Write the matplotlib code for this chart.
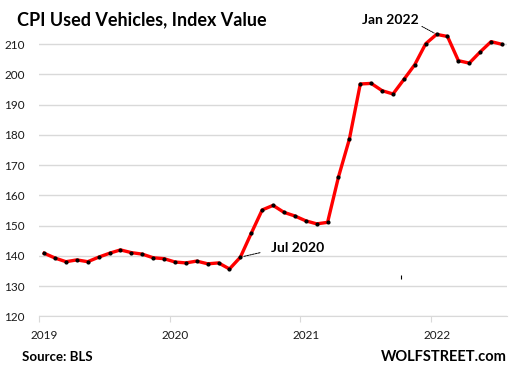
import matplotlib
matplotlib.use('Agg')
import matplotlib.pyplot as plt

# CPI used vehicles, monthly index values Jan 2019 - Jul 2022
cpi_2019 = [140.9, 139.3, 138.1, 138.7, 138.1, 139.6, 140.9, 142.0, 141.1, 140.6, 139.4, 139.1]
cpi_2020 = [138.0, 137.7, 138.3, 137.4, 137.7, 135.7, 139.6, 147.5, 155.2, 156.7, 154.4, 153.2]
cpi_2021 = [151.6, 150.6, 151.1, 166.1, 178.6, 196.8, 197.0, 194.6, 193.5, 198.3, 203.2, 210.1]
cpi_2022 = [213.2, 212.5, 204.5, 203.7, 207.4, 210.8, 209.9]
cpi = cpi_2019 + cpi_2020 + cpi_2021 + cpi_2022

year_labels = ['2019', '2020', '2021', '2022']
y_ticks = [120, 130, 140, 150, 160, 170, 180, 190, 200, 210]

plt.rcParams['font.family'] = ['Lato', 'DejaVu Sans']

fig = plt.figure(figsize=(5.10, 3.72), dpi=100)
ax = fig.add_axes([0.0759, 0.1492, 0.9191, 0.7731])

# points sit in the middle of each month category, like Excel
x = [i + 0.5 for i in range(len(cpi))]
ax.plot(x, cpi, color='#ff0000', lw=2.4, solid_joinstyle='round', zorder=3)
ax.plot(x, cpi, ls='none', marker='o', ms=2.0, color='black', zorder=4)

ax.set_xlim(0, len(cpi))
ax.set_ylim(120, 215)
ax.set_yticks(y_ticks)
# tick marks between years, labels on the January category
year_starts = [12 * k for k in range(len(year_labels))]
ax.set_xticks(year_starts)
ax.set_xticklabels([])
ax.set_xticks([s + 0.5 for s in year_starts], minor=True)
ax.set_xticklabels(year_labels, minor=True)
ax.grid(axis='y', color='#d9d9d9', lw=1)
ax.set_axisbelow(True)
for s in ['top', 'right', 'left']:
    ax.spines[s].set_visible(False)
ax.spines['bottom'].set_color('#d9d9d9')
ax.tick_params(axis='y', length=0, pad=10, labelsize=8.5, labelcolor='#1a1a1a')
ax.tick_params(axis='x', which='major', length=4, color='#d9d9d9')
ax.tick_params(axis='x', which='minor', length=0, pad=9.4, labelsize=8.5, labelcolor='#1a1a1a')

# annotations
jan22 = 36
ax.annotate('Jan 2022', xy=(x[jan22], cpi[jan22]), xytext=(34.9, 217.9),
            ha='right', va='center', fontsize=10, fontweight='bold',
            annotation_clip=False,
            arrowprops=dict(arrowstyle='-', ls=(0, (1, 1)), lw=0.7, color='black',
                            relpos=(1.0, 0.1), shrinkA=0, shrinkB=2))
jul20 = 18
ax.annotate('Jul 2020', xy=(x[jul20], cpi[jul20]), xytext=(21.3, 142.7),
            ha='left', va='center', fontsize=10, fontweight='bold',
            arrowprops=dict(arrowstyle='-', ls=(0, (2, 1)), lw=0.7, color='black',
                            relpos=(0.0, 0.3), shrinkA=6, shrinkB=2))
ax.plot([33.2], [133.1], marker='|', ms=2.5, color='black', mew=0.8)

fig.text(17 / 510, 1 - 20 / 372, 'CPI Used Vehicles, Index Value', fontsize=13,
         fontweight='bold', ha='left', va='center')
fig.text(22 / 510, 1 - 357 / 372, 'Source: BLS', fontsize=9.5, fontweight='bold',
         ha='left', va='center')
fig.text(507 / 510, 1 - 357 / 372, 'WOLFSTREET.com', fontsize=10.5, fontweight='bold',
         ha='right', va='center')

fig.savefig('out.png', dpi=100)
